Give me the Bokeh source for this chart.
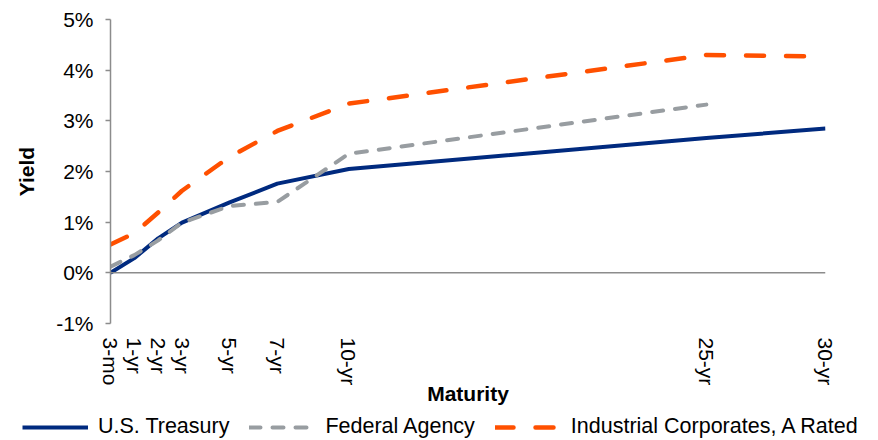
import math
from bokeh.plotting import figure
from bokeh.layouts import column, row
from bokeh.models import (Range1d, FixedTicker, PrintfTickFormatter, Span,
                          Legend, LegendItem, ColumnDataSource)
from bokeh.embed import file_html
from bokeh.resources import INLINE

# ---- data ----
maturity_labels = ["3-mo", "1-yr", "2-yr", "3-yr", "5-yr", "7-yr", "10-yr", "25-yr", "30-yr"]
maturity_years = [0, 1, 2, 3, 5, 7, 10, 25, 30]
treasury = [0.00, 0.29, 0.68, 0.99, 1.39, 1.76, 2.05, 2.66, 2.85]
agency = [0.12, 0.35, 0.64, 0.99, 1.32, 1.40, 2.35, 3.32, float("nan")]
corporates = [0.56, 0.78, 1.19, 1.62, 2.29, 2.80, 3.34, 4.30, 4.27]
series_names = ["U.S. Treasury", "Federal Agency", "Industrial Corporates, A Rated"]
y_ticks = [-1, 0, 1, 2, 3, 4, 5]

FONT = "Liberation Sans"
FS = "21px"
AXIS_GRAY = "#8C8C8C"
STYLES = [dict(line_color="#002A7F", line_width=4, line_join="round"),
          dict(line_color="#989DA1", line_width=4, line_dash="11 12",
               line_cap="round", line_join="round"),
          dict(line_color="#FF5000", line_width=4.5, line_dash="18 22",
               line_cap="round", line_join="round")]

src = ColumnDataSource(dict(x=maturity_years, t=treasury, a=agency, c=corporates))

p = figure(frame_width=715, frame_height=304,
           min_border_left=110, min_border_right=51,
           min_border_top=19, min_border_bottom=91,
           x_range=Range1d(0, 30), y_range=Range1d(-1, 5),
           output_backend="svg", toolbar_location=None)
p.outline_line_color = None
p.background_fill_color = "white"
p.border_fill_color = "white"
p.xgrid.visible = False
p.ygrid.visible = False

# y axis
ya = p.yaxis[0]
ya.ticker = FixedTicker(ticks=y_ticks)
ya.formatter = PrintfTickFormatter(format="%d%%")
ya.axis_line_color = AXIS_GRAY
ya.axis_line_width = 1.5
ya.major_tick_line_color = AXIS_GRAY
ya.major_tick_line_width = 1.5
ya.major_tick_out = 5
ya.major_tick_in = 0
ya.minor_tick_line_color = None
ya.major_label_standoff = 12
ya.major_label_text_font = FONT
ya.major_label_text_font_size = FS
ya.major_label_text_color = "black"
ya.axis_label = "Yield"
ya.axis_label_text_font = FONT
ya.axis_label_text_font_size = FS
ya.axis_label_text_font_style = "bold"
ya.axis_label_text_color = "black"
ya.axis_label_standoff = 15

# x axis
xa = p.xaxis[0]
xa.ticker = FixedTicker(ticks=maturity_years)
xa.major_label_overrides = {m: lab for m, lab in zip(maturity_years, maturity_labels)}
xa.axis_line_color = None
xa.major_tick_line_color = None
xa.minor_tick_line_color = None
xa.major_tick_out = 0
xa.major_tick_in = 0
xa.major_label_standoff = 14
xa.major_label_orientation = -math.pi / 2
xa.major_label_text_font = FONT
xa.major_label_text_font_size = FS
xa.major_label_text_color = "black"
xa.axis_label = "Maturity"
xa.axis_label_text_font = FONT
xa.axis_label_text_font_size = FS
xa.axis_label_text_font_style = "bold"
xa.axis_label_text_color = "black"
xa.axis_label_standoff = -6

# zero line (Excel horizontal axis)
p.add_layout(Span(location=0, dimension="width", line_color=AXIS_GRAY, line_width=1.5))

p.line("x", "t", source=src, **STYLES[0])
p.line("x", "a", source=src, **STYLES[1])
p.line("x", "c", source=src, **STYLES[2])

# ---- legend strip below the chart (proxy lines lie outside its ranges) ----
lf = figure(width=876, height=25, x_range=Range1d(100, 101), y_range=Range1d(100, 101),
            x_axis_type=None, y_axis_type=None,
            min_border_left=0, min_border_right=0, min_border_top=0, min_border_bottom=0,
            output_backend="svg", toolbar_location=None)
lf.outline_line_color = None
lf.xgrid.visible = False
lf.ygrid.visible = False
items = []
for name, col, st in zip(series_names, ["t", "a", "c"], STYLES):
    r = lf.line("x", col, source=src, **st)
    items.append(LegendItem(label=name, renderers=[r]))

legend = Legend(items=items, orientation="horizontal", location=(22, 0),
                glyph_width=66, glyph_height=20, label_height=20,
                label_standoff=10, spacing=20,
                padding=0, margin=0, border_line_color=None,
                background_fill_alpha=0,
                label_text_font=FONT, label_text_font_size="21.5px",
                label_text_color="black")
lf.add_layout(legend)

layout = column(p, row(lf), spacing=0)
open("out.html", "w").write(file_html(layout, INLINE))
